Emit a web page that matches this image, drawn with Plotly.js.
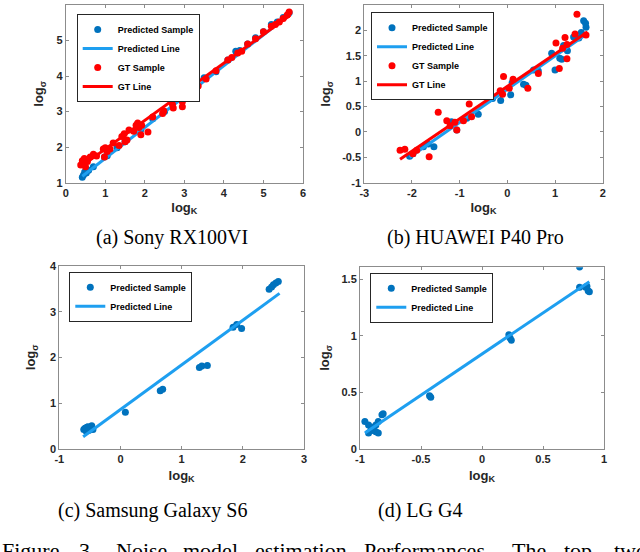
<!DOCTYPE html>
<html>
<head>
<meta charset="utf-8">
<script src="https://cdn.plot.ly/plotly-3.0.1.min.js"></script>
<style>
  html, body { margin: 0; padding: 0; background: #fff; }
  #graph { width: 640px; height: 552px; }
</style>
</head>
<body>
<div id="graph"></div>
<script>
// (a) Sony RX100VI
var aPredX = [0.42, 0.45, 0.48, 0.52, 0.58, 0.7, 0.98, 1.05, 1.3, 1.5, 1.9, 2.2, 2.5, 2.8, 3.0, 3.3, 3.5, 3.8, 4.1, 4.3, 4.4, 4.6, 4.8, 5.0, 5.2, 5.35, 5.5, 5.65];
var aPredY = [1.15, 1.22, 1.3, 1.27, 1.35, 1.45, 1.72, 1.76, 1.98, 2.15, 2.5, 2.8, 3.0, 3.35, 3.55, 3.8, 3.95, 4.12, 4.45, 4.7, 4.72, 4.9, 5.08, 5.25, 5.45, 5.52, 5.65, 5.78];
var aGtX = [0.38, 0.42, 0.45, 0.47, 0.5, 0.55, 0.62, 0.7, 0.78, 0.95, 1.0, 0.98, 1.05, 1.12, 1.2, 1.35, 1.42, 1.48, 1.5, 1.55, 1.6, 1.72, 1.78, 1.82, 1.85, 1.9, 1.92, 2.08, 2.2, 2.45, 2.48, 2.7, 2.72, 2.95, 2.95, 3.2, 3.27, 3.35, 3.55, 3.8, 4.1, 4.2, 4.35, 4.45, 4.6, 4.8, 5.0, 5.2, 5.3, 5.4, 5.5, 5.6, 5.65];
var aGtY = [1.5, 1.62, 1.55, 1.68, 1.45, 1.6, 1.72, 1.8, 1.75, 1.95, 1.98, 1.72, 1.88, 1.95, 2.12, 2.05, 2.3, 2.38, 2.15, 2.2, 2.48, 2.45, 2.62, 2.68, 2.55, 2.35, 2.62, 2.43, 2.85, 2.95, 3.02, 3.2, 3.1, 3.28, 3.14, 3.5, 3.45, 3.72, 3.92, 4.15, 4.45, 4.52, 4.65, 4.7, 4.9, 5.05, 5.25, 5.4, 5.45, 5.52, 5.62, 5.72, 5.8];
var aLineX = [0.42, 5.68];
var aPredLineY = [1.18, 5.75];
var aGtLineY = [1.48, 5.72];

// (b) HUAWEI P40 Pro
var bPredX = [-2.05, -1.98, -1.76, -1.54, -1.66, -1.17, -1.06, -0.85, -0.61, -0.4, -0.31, -0.14, 0.07, 0.1, 0.34, 0.39, 0.55, 0.65, 0.93, 1.0, 1.1, 1.14, 1.18, 1.26, 1.39, 1.5, 1.55, 1.6, 1.64, 1.65];
var bPredY = [-0.48, -0.43, -0.29, -0.29, -0.24, 0.2, 0.04, 0.27, 0.35, 0.64, 0.66, 0.62, 0.73, 0.97, 0.94, 0.92, 1.22, 1.2, 1.55, 1.22, 1.45, 1.43, 1.7, 1.6, 1.87, 1.85, 1.96, 2.19, 2.14, 2.06];
var bGtX = [-2.25, -2.15, -1.98, -1.9, -1.64, -1.45, -1.27, -1.2, -1.1, -1.06, -0.92, -0.8, -0.75, -0.38, -0.15, -0.1, -0.08, 0.04, 0.12, 0.43, 0.65, 1.02, 1.09, 1.16, 1.21, 1.25, 1.25, 1.42, 1.46, 1.65];
var bGtY = [-0.36, -0.34, -0.43, -0.36, -0.49, 0.39, 0.22, 0.12, 0.19, 0.04, 0.22, 0.55, 0.3, 0.81, 0.81, 0.74, 1.09, 0.86, 1.04, 0.86, 1.15, 1.75, 1.25, 1.65, 1.86, 1.72, 1.44, 1.93, 2.32, 1.91];
var bPredLineX = [-2.05, 1.65];
var bPredLineY = [-0.5, 1.92];
var bGtLineX = [-2.25, 1.68];
var bGtLineY = [-0.54, 1.97];

// (c) Samsung Galaxy S6
var cPredX = [-0.6, -0.58, -0.56, -0.55, -0.53, -0.52, -0.5, -0.5, -0.48, -0.47, -0.45, 0.08, 0.65, 0.69, 1.29, 1.33, 1.42, 1.84, 1.9, 1.98, 2.43, 2.47, 2.5, 2.54, 2.58];
var cPredY = [0.42, 0.45, 0.38, 0.47, 0.48, 0.4, 0.47, 0.43, 0.44, 0.5, 0.42, 0.8, 1.27, 1.3, 1.78, 1.81, 1.82, 2.66, 2.72, 2.63, 3.49, 3.54, 3.59, 3.63, 3.66];
var cLineX = [-0.61, 2.6];
var cLineY = [0.26, 3.4];

// (d) LG G4
var dPredX = [-0.96, -0.93, -0.91, -0.89, -0.87, -0.85, -0.93, -0.91, -0.89, -0.87, -0.85, -0.82, -0.81, -0.43, -0.42, 0.22, 0.23, 0.24, 0.8, 0.8, 0.85, 0.86, 0.87, 0.88];
var dPredY = [0.24, 0.21, 0.19, 0.17, 0.15, 0.14, 0.14, 0.16, 0.19, 0.21, 0.24, 0.3, 0.31, 0.47, 0.455, 1.01, 0.98, 0.96, 1.61, 1.43, 1.43, 1.44, 1.4, 1.39];
var dLineX = [-0.96, 0.88];
var dLineY = [0.14, 1.48];

// tick labels
var aXt = [0, 1, 2, 3, 4, 5, 6], aYt = [1, 2, 3, 4, 5, 6];
var bXt = [-3, -2, -1, 0, 1, 2], bXl = ['-3', '-2', '-1', '0', '1', '2'];
var bYt = [-1, -0.5, 0, 0.5, 1, 1.5, 2, 2.5], bYl = ['-1', '-0.5', '0', '0.5', '1', '1.5', '2', '2.5'];
var cXt = [-1, 0, 1, 2, 3], cXl = ['-1', '0', '1', '2', '3'];
var cYt = [0, 1, 2, 3, 4];
var dXt = [-1, -0.5, 0, 0.5, 1], dXl = ['-1', '-0.5', '0', '0.5', '1'];
var dYt = [0, 0.5, 1, 1.5], dYl = ['0', '0.5', '1', '1.5'];

// captions
var subCaps = ['(a) Sony RX100VI', '(b) HUAWEI P40 Pro', '(c) Samsung Galaxy S6', '(d) LG G4'];
var figWords = ['Figure', '3.', 'Noise', 'model', 'estimation', 'Performances.', 'The', 'top', 'two'];

var dotBlue = '#0072BD';
var lineBlue = '#1E9FF0';
var red = '#FF0000';

function dots(x, y, ax, color, name, leg) {
    return {x: x, y: y, xaxis: 'x' + ax, yaxis: 'y' + ax, type: 'scatter', mode: 'markers',
        marker: {color: color, size: 7}, name: name, legend: leg};
}
function line(x, y, ax, color, name, leg) {
    return {x: x, y: y, xaxis: 'x' + ax, yaxis: 'y' + ax, type: 'scatter', mode: 'lines',
        line: {color: color, width: 3}, name: name, legend: leg};
}

var data = [
    dots(aPredX, aPredY, '', dotBlue, 'Predicted Sample', 'legend'),
    line(aLineX, aPredLineY, '', lineBlue, 'Predicted Line', 'legend'),
    dots(aGtX, aGtY, '', red, 'GT Sample', 'legend'),
    line(aLineX, aGtLineY, '', red, 'GT Line', 'legend'),
    dots(bPredX, bPredY, '2', dotBlue, 'Predicted Sample', 'legend2'),
    line(bPredLineX, bPredLineY, '2', lineBlue, 'Predicted Line', 'legend2'),
    dots(bGtX, bGtY, '2', red, 'GT Sample', 'legend2'),
    line(bGtLineX, bGtLineY, '2', red, 'GT Line', 'legend2'),
    dots(cPredX, cPredY, '3', dotBlue, 'Predicted Sample', 'legend3'),
    line(cLineX, cLineY, '3', lineBlue, 'Predicted Line', 'legend3'),
    dots(dPredX, dPredY, '4', dotBlue, 'Predicted Sample', 'legend4'),
    line(dLineX, dLineY, '4', lineBlue, 'Predicted Line', 'legend4')
];

var sans = 'Liberation Sans, Arial, sans-serif';
var serif = 'Liberation Serif, Times New Roman, serif';
var tickFont = {family: sans, size: 11, color: '#262626', weight: 'bold'};
var titleFont = {family: sans, size: 13, color: '#262626', weight: 'bold'};

function axis(dom, range, tv, tt, title, anchor, standoff) {
    return {
        domain: dom, range: range, anchor: anchor,
        showline: true, mirror: 'ticks', linecolor: '#8c8c8c', linewidth: 1,
        ticks: 'inside', ticklen: 3, tickcolor: '#8c8c8c',
        showgrid: false, zeroline: false, tickvals: tv, ticktext: tt,
        tickfont: tickFont,
        title: {text: title, font: titleFont, standoff: standoff}
    };
}
function legendBox(x, y) {
    return {x: x, y: y, xanchor: 'left', yanchor: 'top', bgcolor: '#fff',
        bordercolor: '#262626', borderwidth: 1, itemwidth: 30,
        font: {family: sans, size: 9, color: '#000', weight: 'bold'}};
}

var W = 640, H = 552;
function xd(l, r) { return [l / W, r / W]; }
function yd(t, b) { return [1 - b / H, 1 - t / H]; }
function caption(text, cx, cy) {
    return {text: text, x: cx / W, y: 1 - cy / H, xref: 'paper', yref: 'paper',
        xanchor: 'center', yanchor: 'middle', showarrow: false,
        font: {family: serif, size: 20, color: '#000'}};
}

var annotations = [
    caption(subCaps[0], 172, 237),
    caption(subCaps[1], 475, 237),
    caption(subCaps[2], 152, 510),
    caption(subCaps[3], 420, 510)
];
// justified figure caption, cut off by the bottom and right edges
var wordLeft = [0, 77, 114, 181, 253, 362, 510, 562, 612];
figWords.forEach(function (w, i) {
    annotations.push({text: w, x: wordLeft[i] / W, y: 1 - 536 / H, xref: 'paper', yref: 'paper',
        xanchor: 'left', yanchor: 'top', showarrow: false,
        font: {family: serif, size: 22, color: '#000'}});
});

var layout = {
    width: W, height: H,
    margin: {l: 0, r: 0, t: 0, b: 0},
    paper_bgcolor: '#fff', plot_bgcolor: '#fff',
    xaxis: axis(xd(65.7, 303), [0, 6], aXt, null, 'log<sub>K</sub>', 'y', 4),
    yaxis: axis(yd(5, 182.7), [1, 6], aYt, null, 'log<sub>σ</sub>', 'x', 9),
    xaxis2: axis(xd(364.3, 602.7), [-3, 2], bXt, bXl, 'log<sub>K</sub>', 'y2', 4),
    yaxis2: axis(yd(5, 182.7), [-1, 2.5], bYt, bYl, 'log<sub>σ</sub>', 'x2', 8),
    xaxis3: axis(xd(59.3, 304), [-1, 3], cXt, cXl, 'log<sub>K</sub>', 'y3', 6),
    yaxis3: axis(yd(266, 448.7), [0, 4], cYt, null, 'log<sub>σ</sub>', 'x3', 11),
    xaxis4: axis(xd(360, 604), [-1, 1], dXt, dXl, 'log<sub>K</sub>', 'y4', 6),
    yaxis4: axis(yd(267.3, 448.7), [0, 1.607], dYt, dYl, 'log<sub>σ</sub>', 'x4', 8),
    legend: legendBox(76.7 / W, 1 - 14 / H),
    legend2: legendBox(371 / W, 1 - 12.3 / H),
    legend3: legendBox(69.3 / W, 1 - 271.7 / H),
    legend4: legendBox(370.3 / W, 1 - 272.7 / H),
    annotations: annotations
};

Plotly.newPlot('graph', data, layout, {displayModeBar: false, staticPlot: true});
</script>
</body>
</html>
